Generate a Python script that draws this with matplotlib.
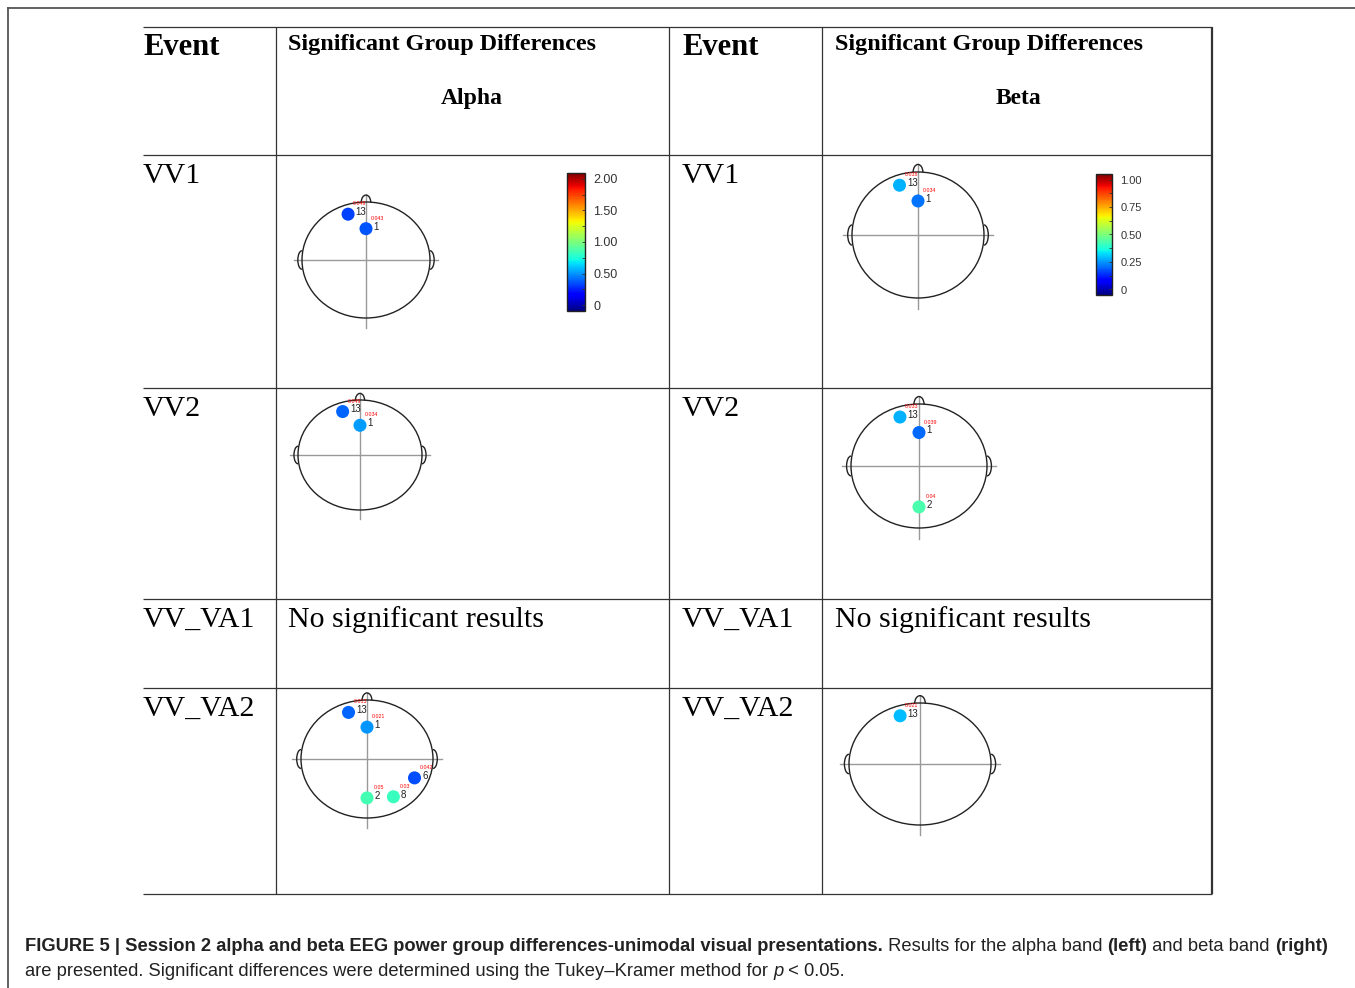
import matplotlib
matplotlib.use("Agg")
import matplotlib.pyplot as plt
from matplotlib.patches import Ellipse, Arc
from matplotlib.cm import ScalarMappable
from matplotlib.colors import Normalize
from matplotlib.ticker import MultipleLocator

# electrode layout on the head (unit circle, nose up)
electrode_ids = [1, 2, 6, 8, 13]
electrode_x = [0.0, 0.0, 0.72, 0.40, -0.28]
electrode_y = [0.54, -0.66, -0.32, -0.64, 0.79]

# alpha band (scale 0..2)
alpha_vv1_ids = [13, 1]
alpha_vv1_vals = [0.38, 0.42]
alpha_vv1_p = ["0.049", "0.043"]
alpha_vv2_ids = [13, 1]
alpha_vv2_vals = [0.45, 0.56]
alpha_vv2_p = ["0.049", "0.034"]
alpha_va2_ids = [13, 1, 6, 2, 8]
alpha_va2_vals = [0.45, 0.54, 0.40, 0.86, 0.84]
alpha_va2_p = ["0.013", "0.021", "0.042", "0.05", "0.03"]

# beta band (scale 0..1)
beta_vv1_ids = [13, 1]
beta_vv1_vals = [0.30, 0.24]
beta_vv1_p = ["0.038", "0.034"]
beta_vv2_ids = [13, 1, 2]
beta_vv2_vals = [0.30, 0.23, 0.44]
beta_vv2_p = ["0.033", "0.039", "0.04"]
beta_va2_ids = [13]
beta_va2_vals = [0.31]
beta_va2_p = ["0.021"]

alpha_ticks = [0, 0.5, 1.0, 1.5, 2.0]
alpha_ticklabels = ["0", "0.50", "1.00", "1.50", "2.00"]
beta_ticks = [0, 0.25, 0.5, 0.75, 1.0]
beta_ticklabels = ["0", "0.25", "0.50", "0.75", "1.00"]

events = ["VV1", "VV2", "VV_VA1", "VV_VA2"]
event_baselines = [183, 416, 627, 716]

W, H = 1355, 988
fig = plt.figure(figsize=(W / 100, H / 100), dpi=100)
base = fig.add_axes([0, 0, 1, 1])
base.set_xlim(0, W)
base.set_ylim(H, 0)
base.axis("off")

# outer frame (only top/left visible)
base.plot([8, 8], [H, 8], color="#555555", lw=1.3)
base.plot([8, W], [8, 8], color="#555555", lw=1.3)

# table grid
row_edges = [27, 155, 388, 599, 688, 894]
col_edges = [276, 669, 822]
base.hlines(row_edges, 143, 1212, color="#333333", lw=0.9)
base.vlines(col_edges, 27, 894, color="#333333", lw=0.9)
base.vlines([1212], 27, 894, color="#333333", lw=1.6)

serif = "Liberation Serif"
for x0, x1, band in [(143, 288, "Alpha"), (682, 835, "Beta")]:
    base.text(x0, 55, "Event", family=serif, weight="bold", fontsize=22, va="baseline")
    base.text(x1, 50, "Significant Group Differences", family=serif, weight="bold",
              fontsize=17.4, va="baseline")
    base.text(x1 + 184, 104, band, family=serif, weight="bold", fontsize=17,
              va="baseline", ha="center")
    for ev, yb in zip(events, event_baselines):
        base.text(x0, yb, ev, family=serif, fontsize=21.5, va="baseline")
    base.text(x1, 627, "No significant results", family=serif, fontsize=21.5, va="baseline")


def draw_head(cx, cy, rx, ry, ids, vals, pvals, vmax):
    ax = fig.add_axes([(cx - 1.3 * rx) / W, 1 - (cy + 1.3 * ry) / H,
                       2.6 * rx / W, 2.6 * ry / H])
    ax.set_xlim(-1.3, 1.3)
    ax.set_ylim(-1.3, 1.3)
    ax.axis("off")
    ax.plot([-1.13, 1.13], [0, 0], color="#999999", lw=1.0, zorder=1)
    ax.plot([0, 0], [-1.17, 1.12], color="#999999", lw=1.0, zorder=1)
    ax.add_patch(Ellipse((0, 0), 2, 2, fill=False, ec="#222222", lw=1.0, zorder=2))
    ax.add_patch(Arc((0, 0.99), 0.15, 0.26, theta1=0, theta2=180, ec="#222222", lw=1.0))
    ax.add_patch(Arc((-1.0, 0), 0.13, 0.32, theta1=90, theta2=270, ec="#222222", lw=1.0))
    ax.add_patch(Arc((1.0, 0), 0.13, 0.32, theta1=-90, theta2=90, ec="#222222", lw=1.0))
    xs = [electrode_x[electrode_ids.index(i)] for i in ids]
    ys = [electrode_y[electrode_ids.index(i)] for i in ids]
    ax.scatter(xs, ys, c=vals, cmap="jet", vmin=0, vmax=vmax, s=88,
               edgecolors="none", zorder=3)
    for i, x, y, p in zip(ids, xs, ys, pvals):
        ax.annotate(str(i), (x, y), xytext=(5.5, 1.5), textcoords="offset points",
                    fontsize=7, color="#222222", va="center", ha="left",
                    family="Liberation Sans")
        ax.annotate(p, (x, y), xytext=(8.5, 7.5), textcoords="offset points",
                    fontsize=3.8, color="red", va="center", ha="center",
                    family="Liberation Sans")


draw_head(366, 260, 64, 58, alpha_vv1_ids, alpha_vv1_vals, alpha_vv1_p, 2.0)
draw_head(360, 455, 62, 55, alpha_vv2_ids, alpha_vv2_vals, alpha_vv2_p, 2.0)
draw_head(367, 759, 66, 59, alpha_va2_ids, alpha_va2_vals, alpha_va2_p, 2.0)
draw_head(918, 235, 66, 63, beta_vv1_ids, beta_vv1_vals, beta_vv1_p, 1.0)
draw_head(919, 466, 68, 62, beta_vv2_ids, beta_vv2_vals, beta_vv2_p, 1.0)
draw_head(920, 764, 71, 61, beta_va2_ids, beta_va2_vals, beta_va2_p, 1.0)


def draw_cbar(x0, y0, x1, y1, vmax, pad, ticks, labels, size):
    cax = fig.add_axes([x0 / W, 1 - y1 / H, (x1 - x0) / W, (y1 - y0) / H])
    cb = fig.colorbar(ScalarMappable(Normalize(-pad, vmax + pad), "jet"),
                      cax=cax, ticks=ticks)
    cb.ax.set_yticklabels(labels)
    cb.ax.yaxis.set_minor_locator(MultipleLocator(vmax / 8))
    cb.ax.tick_params(which="both", direction="in", length=2.5, width=0.6,
                      labelsize=size, pad=6, labelcolor="#333333", color="#333333")
    for t in cb.ax.get_yticklabels():
        t.set_family("Liberation Sans")
    cb.outline.set_linewidth(1.0)
    cb.outline.set_edgecolor("#222222")


draw_cbar(567, 173, 585, 311, 2.0, 0.09, alpha_ticks, alpha_ticklabels, 9)
draw_cbar(1096, 174, 1112, 295, 1.0, 0.05, beta_ticks, beta_ticklabels, 8)

# caption, built piece by piece
renderer = fig.canvas.get_renderer()
cap_size = 13.2
sans = "Liberation Sans"


def caption_line(x, y, pieces):
    for txt, style in pieces:
        kw = dict(family=sans, fontsize=cap_size, va="baseline", color="#222222")
        if style == "b":
            kw["weight"] = "bold"
        elif style == "i":
            kw["style"] = "italic"
        t = base.text(x, y, txt, **kw)
        x += t.get_window_extent(renderer).width


caption_line(25, 951, [
    ("FIGURE 5 | Session 2 alpha and beta EEG power group differences-unimodal visual presentations.", "b"),
    (" Results for the alpha band ", "r"),
    ("(left)", "b"),
    (" and beta band ", "r"),
    ("(right)", "b"),
])
caption_line(25, 976, [
    ("are presented. Significant differences were determined using the Tukey\u2013Kramer method for ", "r"),
    ("p", "i"),
    (" < 0.05.", "r"),
])

fig.savefig("out.png", dpi=100)
